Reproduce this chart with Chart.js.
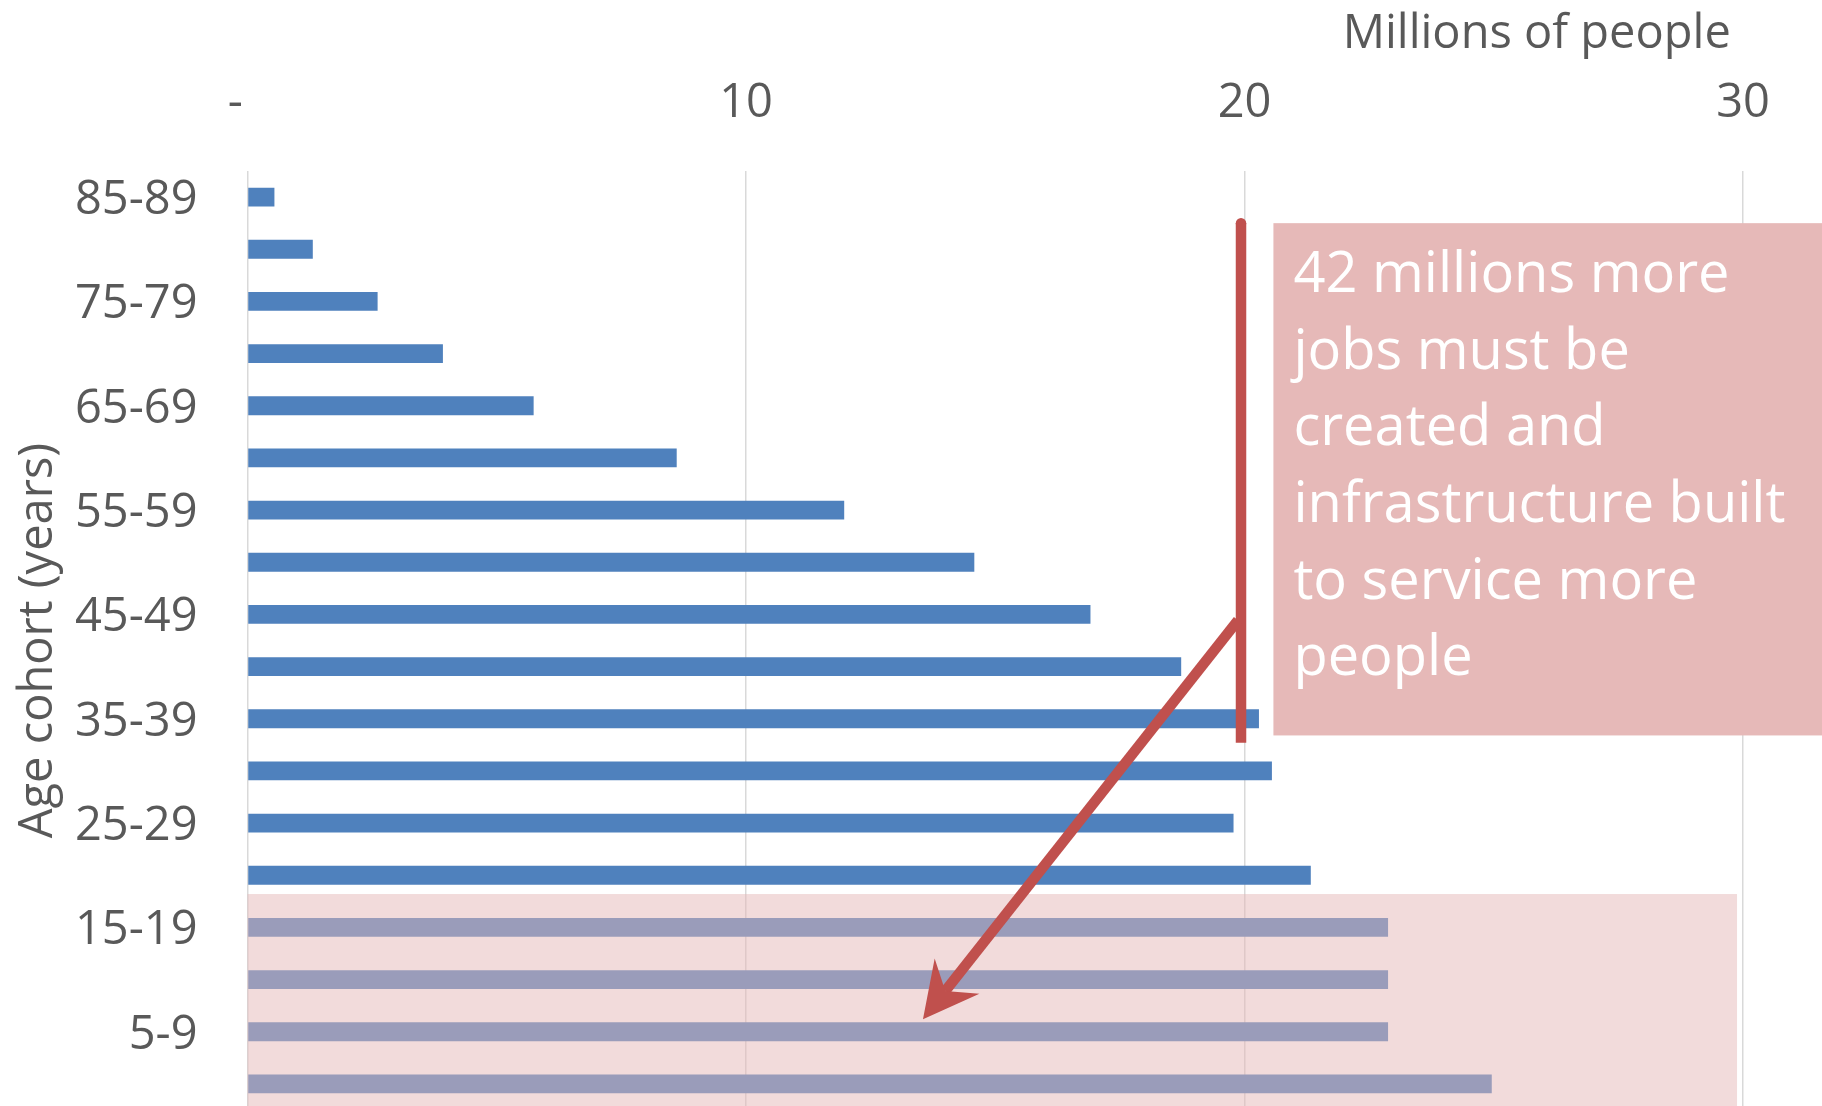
<!DOCTYPE html>
<html>
<head>
<meta charset="utf-8">
<script src="https://cdn.jsdelivr.net/npm/chart.js@4.4.0/dist/chart.umd.min.js"></script>
<style>
  html, body { margin: 0; padding: 0; background: #fff; overflow: hidden; }
  #wrap { width: 1822px; height: 1112px; }
</style>
</head>
<body>
<div id="wrap"><canvas id="chart" width="1822" height="1112"></canvas></div>
<script>
// age cohorts, top to bottom
const ageGroups = ['85-89', '80-84', '75-79', '70-74', '65-69', '60-64', '55-59', '50-54', '45-49',
                   '40-44', '35-39', '30-34', '25-29', '20-24', '15-19', '10-14', '5-9', '0-4'];
// millions of people per cohort
const population = [0.54, 1.31, 2.61, 3.92, 5.74, 8.61, 11.97, 14.58, 16.91,
                    18.73, 20.29, 20.55, 19.78, 21.33, 22.88, 22.88, 22.88, 24.96];
const xTickLabels = { 0: '-  ', 10: '10', 20: '20', 30: '30' };
const noteLines = ['42 millions more', 'jobs must be', 'created and',
                   'infrastructure built', 'to service more', 'people'];

const FONT = '"Open Sans", sans-serif';
const GREY = '#595959';
const RED = '#C0504D';

const annotations = {
    id: 'annotations',
    afterDatasetsDraw(chart) {
        const { ctx, scales: { x, y } } = chart;
        const px = v => x.getPixelForValue(v);
        const py = v => y.getPixelForValue(v);
        ctx.save();

        // translucent band over the young cohorts
        ctx.fillStyle = 'rgba(230,184,183,0.5)';
        ctx.fillRect(px(0), py(13.36), px(29.88) - px(0), py(17.5) - py(13.36));

        // note box
        const boxL = px(20.58), boxT = py(0.5), boxB = py(10.32);
        ctx.fillStyle = '#E6B9B8';
        ctx.fillRect(boxL, boxT, chart.width - boxL, boxB - boxT);
        ctx.fillStyle = '#FFFFFF';
        ctx.font = '56px ' + FONT;
        ctx.textAlign = 'left';
        ctx.textBaseline = 'alphabetic';
        noteLines.forEach((line, i) => ctx.fillText(line, boxL + 20, boxT + 69 + i * 76.6));

        // vertical marker
        ctx.strokeStyle = RED;
        ctx.fillStyle = RED;
        ctx.lineWidth = 10.5;
        ctx.lineCap = 'butt';
        const vx = px(19.93), vTop = py(0.5), vBot = py(10.46);
        ctx.beginPath();
        ctx.moveTo(vx, vTop);
        ctx.lineTo(vx, vBot);
        ctx.stroke();
        ctx.beginPath();
        ctx.arc(vx, vTop, 5.25, 0, Math.PI * 2);
        ctx.fill();

        // arrow down to the young cohorts
        const sx = px(19.87), sy = py(8.11), tx = px(13.55), ty = py(15.76);
        const len = Math.hypot(tx - sx, ty - sy);
        const ux = (tx - sx) / len, uy = (ty - sy) / len;
        const nx = -uy, ny = ux;
        const headLen = 55, headHalf = 28.5, notch = 36;
        ctx.beginPath();
        ctx.moveTo(sx, sy);
        ctx.lineTo(tx - ux * notch, ty - uy * notch);
        ctx.stroke();
        ctx.beginPath();
        ctx.moveTo(tx, ty);
        ctx.lineTo(tx - ux * headLen + nx * headHalf, ty - uy * headLen + ny * headHalf);
        ctx.lineTo(tx - ux * notch, ty - uy * notch);
        ctx.lineTo(tx - ux * headLen - nx * headHalf, ty - uy * headLen - ny * headHalf);
        ctx.closePath();
        ctx.fill();

        ctx.restore();
    }
};

new Chart(document.getElementById('chart').getContext('2d'), {
    type: 'bar',
    data: {
        labels: ageGroups,
        datasets: [{
            data: population,
            backgroundColor: '#4F81BD',
            barPercentage: 0.36,
            categoryPercentage: 1.0,
        }],
    },
    options: {
        responsive: false,
        animation: false,
        indexAxis: 'y',
        layout: { padding: { left: 0, right: 79, top: 0, bottom: 2 } },
        plugins: {
            legend: { display: false },
            tooltip: { enabled: false },
        },
        scales: {
            x: {
                position: 'top',
                min: 0,
                max: 30,
                ticks: {
                    stepSize: 10,
                    padding: 39,
                    color: GREY,
                    font: { family: FONT, size: 47 },
                    callback: v => xTickLabels[v] ?? '',
                },
                grid: { color: '#D9D9D9', lineWidth: 1.5, drawTicks: false },
                border: { display: false },
                title: {
                    display: true,
                    text: 'Millions of people ',
                    align: 'end',
                    color: GREY,
                    font: { family: FONT, size: 47 },
                    padding: { top: 6, bottom: 0 },
                },
                afterFit: s => { s.height = 171; s.paddingLeft = 0; s.paddingRight = 0; },
            },
            y: {
                ticks: {
                    autoSkip: false,
                    padding: 50,
                    labelOffset: 3.5,
                    color: GREY,
                    font: { family: FONT, size: 47 },
                    callback: (v, i) => (i % 2 === 0 ? ageGroups[i] : ''),
                },
                grid: { display: false, drawTicks: false },
                border: { display: false },
                title: {
                    display: true,
                    text: 'Age cohort (years)',
                    color: GREY,
                    font: { family: FONT, size: 47 },
                    padding: { top: 10.5, bottom: 0 },
                },
                afterFit: s => { s.width = 247.5; s.paddingTop = 0; s.paddingBottom = 0; },
            },
        },
    },
    plugins: [annotations],
});
</script>
</body>
</html>
